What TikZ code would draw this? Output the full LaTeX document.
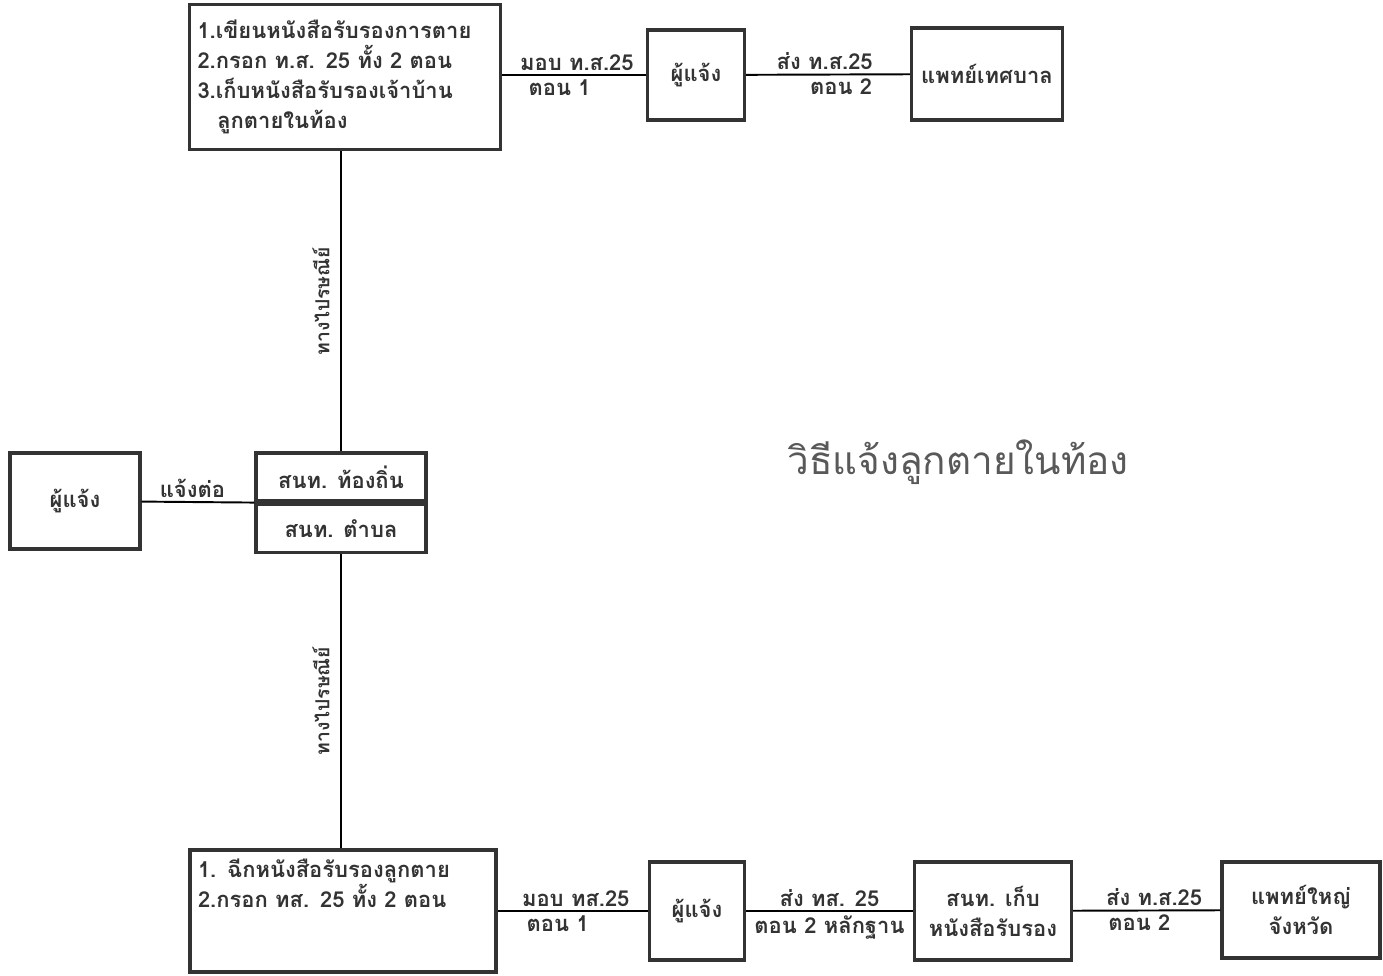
\documentclass[tikz,border=0pt]{standalone}
\usepackage{fontspec}
\setmainfont{Liberation Sans}
\newfontfamily\thaifont[Script=Thai]{Loma}
\usetikzlibrary{positioning}

\begin{document}
\begin{tikzpicture}[
        x=0.02cm, y=-0.02cm,
        font=\thaifont\bfseries\fontsize{12.5}{17}\selectfont,
        line width=1.1pt,
        every node/.style={text=black!80},
        box/.style={
            draw=black!80,
            fill=white,
            line width=1.8pt,
            align=center,
            inner sep=4pt
        },
        lbl/.style={inner sep=2pt},
        vlbl/.style={sloped, above, inner sep=6pt, font=\thaifont\bfseries\fontsize{11}{13}\selectfont}
    ]

        \useasboundingbox (0,0) rectangle (1383,976);

        % top row
        \node[box, align=left, text width=5.9cm, minimum width=6.22cm, minimum height=2.9cm] (tl) at (345,77)
            {1.เขียนหนังสือรับรองการตาย\\2.กรอก ท.ส. 25 ทั้ง 2 ตอน\\3.เก็บหนังสือรับรองเจ้าบ้าน\\\hspace{0.9em}ลูกตายในท้อง};
        \node[box, minimum width=1.94cm, minimum height=1.8cm] (pj1) at (696,75) {ผู้แจ้ง};
        \node[box, minimum width=3.02cm, minimum height=1.84cm] (ptb) at (987,74) {แพทย์เทศบาล};

        % middle row
        \node[box, minimum width=2.6cm, minimum height=1.92cm] (pjl) at (75,501) {ผู้แจ้ง};
        \node[box, minimum width=3.4cm, minimum height=0.96cm] (sntop) at (341,477) {สนท. ท้องถิ่น};
        \node[box, minimum width=3.4cm, minimum height=0.96cm, below=0pt of sntop] (snbot) {สนท. ตำบล};

        \node[font=\thaifont\fontsize{22}{26}\selectfont, text=black!65] (title) at (958,462) {วิธีแจ้งลูกตายในท้อง};

        % bottom row
        \node[box, align=left, text width=5.8cm, minimum width=6.12cm, minimum height=2.44cm] (bl) at (343,911)
            {1. ฉีกหนังสือรับรองลูกตาย\\2.กรอก ทส. 25 ทั้ง 2 ตอน\\[0.5cm]\mbox{}};
        \node[box, minimum width=1.9cm, minimum height=1.96cm] (pj2) at (697,911) {ผู้แจ้ง};
        \node[box, minimum width=3.14cm, minimum height=1.96cm] (snk) at (993,911) {สนท. เก็บ\\หนังสือรับรอง};
        \node[box, minimum width=3.16cm, minimum height=1.92cm] (pyj) at (1301,910) {แพทย์ใหญ่\\จังหวัด};

        \draw (pj1) -- node[lbl, above, pos=0.48] {มอบ ท.ส.25} node[lbl, below, pos=0.6] {ตอน 1} (pj1 -| tl.east);
        \draw (pj1) -- node[lbl, above, pos=0.48] {ส่ง ท.ส.25} node[lbl, below, pos=0.58] {ตอน 2} (ptb);

        \draw (sntop) -- node[vlbl] {ทางไปรษณีย์} (sntop |- tl.south);
        \draw (pjl) -- node[lbl, above, pos=0.45] {แจ้งต่อ} (sntop.south west);
        \draw (snbot |- bl.north) -- node[vlbl] {ทางไปรษณีย์} (snbot);

        \draw (pj2) -- node[lbl, above, pos=0.48] {มอบ ทส.25} node[lbl, below, pos=0.6] {ตอน 1} (pj2 -| bl.east);
        \draw (pj2) -- node[lbl, above, pos=0.5] {ส่ง ทส. 25} node[lbl, below, pos=0.5] {ตอน 2 หลักฐาน} (snk);
        \draw (snk) -- node[lbl, above, pos=0.55] {ส่ง ท.ส.25} node[lbl, below, pos=0.45] {ตอน 2} (pyj);

    \end{tikzpicture}
\end{document}
